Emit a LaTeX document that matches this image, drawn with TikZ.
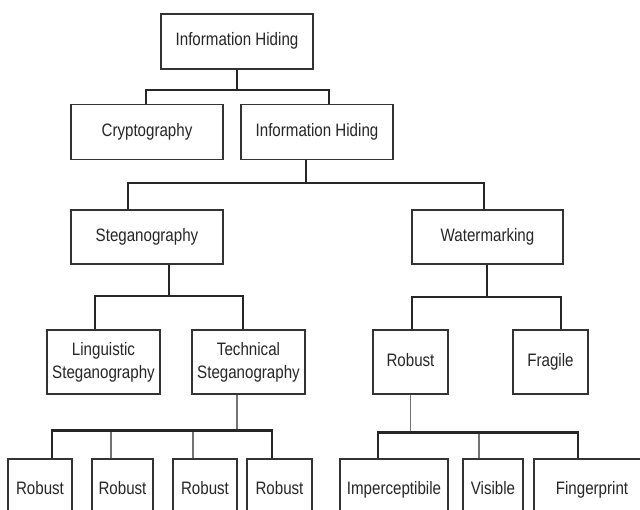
\documentclass[tikz,border=0pt]{standalone}
\usepackage{fontspec}
\setmainfont[FakeStretch=0.84]{Liberation Sans}
\usetikzlibrary{positioning}

\begin{document}
\begin{tikzpicture}[
    x=1pt, y=-1pt,
    font=\fontsize{18}{23}\selectfont,
    box/.style={draw=black!80, line width=1.4pt, fill=white, text=black!85,
        inner sep=0pt, align=center, minimum height=55pt},
    word/.style={box, text height=13pt, text depth=4pt},
    link/.style={draw=black!85, line width=2.1pt},
    bar/.style={draw=black!85, line width=2.6pt},
    drop/.style={draw=black!55, line width=1.1pt}
]
\useasboundingbox (0,0) rectangle (640,510);
\clip (0,0) rectangle (640,510);

\node[word, minimum width=152pt] (top) at (237,41.5) {Information Hiding};
\node[word, minimum width=152pt] (crypto) at (147,132) {Cryptography};
\node[word, minimum width=152pt] (hide) at (317,132) {Information Hiding};
\node[word, minimum width=152pt, minimum height=54pt] (steg) at (147,237) {Steganography};
\node[word, minimum width=151pt, minimum height=54pt] (water) at (487.5,237) {Watermarking};

\node[box, minimum width=113pt, minimum height=64pt] (ling) at (103.5,362) {Linguistic\\Steganography};
\node[box, minimum width=113pt, minimum height=64pt] (tech) at (248.5,362) {Technical\\Steganography};
\node[word, minimum width=75pt, minimum height=64pt] (wrob) at (410.5,362) {Robust};
\node[word, minimum width=75pt, minimum height=64pt] (frag) at (550.5,362) {Fragile};

\node[word, minimum width=64pt, minimum height=62pt] (r1) at (40,490) {Robust};
\node[word, minimum width=61pt, minimum height=62pt] (r2) at (122.5,490) {Robust};
\node[word, minimum width=64pt, minimum height=62pt] (r3) at (205,490) {Robust};
\node[word, minimum width=65pt, minimum height=62pt] (r4) at (279.5,490) {Robust};
\node[word, minimum width=108pt, minimum height=62pt] (imp) at (394,490) {Imperceptibile};
\node[word, minimum width=60pt, minimum height=62pt] (vis) at (493,490) {Visible};
\node[word, minimum width=116pt, minimum height=62pt] (fing) at (592,490) {Fingerprint};

\draw[link] (top.south) -- ++(0,20) coordinate (j1);
\draw[link] ([xshift=-1pt]crypto.north) |- (j1) -| ([xshift=12pt]hide.north);

\draw[link] ([xshift=-11pt]hide.south) -- ++(0,23) coordinate (j2);
\draw[link] ([xshift=-19pt]steg.north) |- (j2) -| ([xshift=-3.5pt]water.north);

\draw[link] ([xshift=22pt]steg.south) -- ++(0,31) coordinate (j3);
\draw[link] ([xshift=-8.5pt]ling.north) |- (j3) -| ([xshift=-5.5pt]tech.north);

\draw[link] ([xshift=-0.5pt]water.south) -- ++(0,32) coordinate (j4);
\draw[link] ([xshift=1.5pt]wrob.north) |- (j4) -| ([xshift=10.5pt]frag.north);

\draw[drop] ([xshift=-11.5pt]tech.south) -- ++(0,36) coordinate (j5);
\draw[drop] ([xshift=-11.5pt]r2.north) -- ([xshift=-11.5pt]r2.north |- j5);
\draw[drop] ([xshift=-12pt]r3.north) -- ([xshift=-12pt]r3.north |- j5);
\draw[bar] ([xshift=12pt]r1.north) |- (j5) -| ([xshift=-7.5pt]r4.north);

\draw[drop] (wrob.south) -- ++(0,38) coordinate (j6);
\draw[drop] ([xshift=-14pt]vis.north) -- ([xshift=-14pt]vis.north |- j6);
\draw[bar] ([xshift=-16pt]imp.north) |- (j6) -| ([xshift=-14pt]fing.north);
\end{tikzpicture}
\end{document}
